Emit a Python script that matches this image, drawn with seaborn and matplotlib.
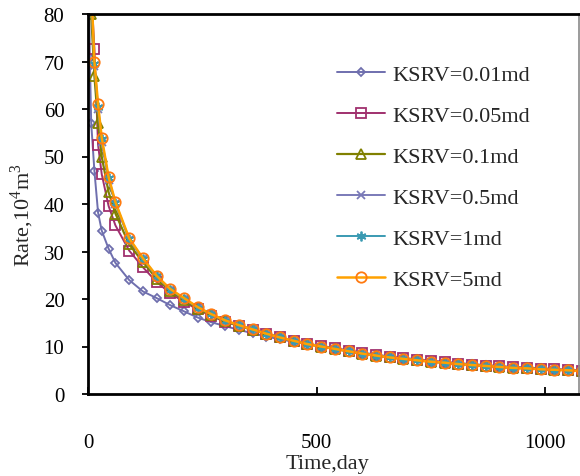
import matplotlib
matplotlib.use("Agg")
import matplotlib.pyplot as plt
import seaborn as sns
import pandas as pd

# ---------------- data ----------------
time_days = [1, 4, 7, 14, 22, 30, 45, 60, 90, 120, 150, 180, 210, 240, 270,
             300, 330, 360, 390, 420, 450, 480, 510, 540, 570, 600, 630, 660,
             690, 720, 750, 780, 810, 840, 870, 900, 930, 960, 990, 1020, 1050, 1080]

series_labels = ["KSRV=0.01md", "KSRV=0.05md", "KSRV=0.1md",
                 "KSRV=0.5md", "KSRV=1md", "KSRV=5md"]

rate_001 = [95, 70.8, 57, 47, 38.2, 34.4, 30.6, 27.6, 24.0, 21.6, 20.2, 18.7, 17.4, 16.1, 15.1,
            14.3, 13.5, 12.8, 12.1, 11.5, 11.0, 10.5, 10.1, 9.6, 9.2, 8.7, 8.3, 7.9,
            7.6, 7.3, 7.0, 6.8, 6.5, 6.3, 6.1, 5.9, 5.7, 5.6, 5.4, 5.3, 5.1, 5.0]
rate_005 = [120, 95, 85, 72.7, 52.5, 46.3, 39.6, 35.5, 30.2, 26.7, 23.6, 21.2, 19.4, 17.8, 16.4,
            15.2, 14.3, 13.5, 12.7, 11.9, 11.2, 10.6, 10.1, 9.6, 9.1, 8.6, 8.2, 7.8,
            7.5, 7.2, 6.9, 6.7, 6.4, 6.2, 6.0, 5.8, 5.6, 5.5, 5.3, 5.2, 5.0, 4.9]
rate_01 = [130, 92, 80, 67, 57, 50, 42.5, 38, 31.5, 27.8, 24.3, 21.7, 19.8, 18.0, 16.6,
           15.3, 14.4, 13.5, 12.7, 11.9, 11.2, 10.5, 10.0, 9.5, 9.0, 8.5, 8.1, 7.7,
           7.4, 7.1, 6.8, 6.6, 6.3, 6.1, 5.9, 5.7, 5.5, 5.4, 5.2, 5.1, 5.0, 4.8]
rate_05 = [140, 96, 84, 69, 60, 53, 45, 40, 32.5, 28.4, 24.7, 22.0, 20.0, 18.2, 16.8,
           15.4, 14.5, 13.6, 12.7, 11.9, 11.2, 10.5, 10.0, 9.5, 9.0, 8.5, 8.1, 7.7,
           7.4, 7.1, 6.8, 6.6, 6.3, 6.1, 5.9, 5.7, 5.5, 5.4, 5.2, 5.1, 5.0, 4.8]
rate_1 = [145, 98, 85, 69.5, 60.5, 53.6, 45.5, 40.2, 32.7, 28.5, 24.8, 22.0, 20.1, 18.2, 16.8,
          15.4, 14.5, 13.6, 12.7, 11.9, 11.2, 10.5, 10.0, 9.5, 9.0, 8.5, 8.1, 7.7,
          7.4, 7.1, 6.8, 6.6, 6.3, 6.1, 5.9, 5.7, 5.5, 5.4, 5.2, 5.1, 5.0, 4.8]
rate_5 = [150, 100, 86, 70, 61, 54, 45.7, 40.4, 32.8, 28.6, 24.9, 22.1, 20.2, 18.3, 16.8,
          15.5, 14.5, 13.6, 12.7, 11.9, 11.2, 10.5, 10.0, 9.5, 9.0, 8.5, 8.1, 7.7,
          7.4, 7.1, 6.8, 6.6, 6.3, 6.1, 5.9, 5.7, 5.5, 5.4, 5.2, 5.1, 5.0, 4.8]

x_ticks = [0, 500, 1000]
y_ticks = [0, 10, 20, 30, 40, 50, 60, 70, 80]

# ---------------- style ----------------
sns.set_style("ticks")
plt.rcParams["font.family"] = ["Liberation Serif", "DejaVu Serif"]
plt.rcParams["mathtext.fontset"] = "custom"
plt.rcParams["mathtext.rm"] = "Liberation Serif"

styles = [
    dict(color="#6F6FAE", marker="D", ms=4.2, mec="#6F6FAE", lw=1.4),
    dict(color="#A0306E", marker="s", ms=6.5, mec="#A0306E", lw=1.4),
    dict(color="#808000", marker="^", ms=6.5, mec="#808000", lw=1.6),
    dict(color="#7A7AB8", marker="x", ms=6.0, mec="#7A7AB8", lw=1.4),
    dict(color="#3A9AB2", marker=(6, 2, 0), ms=7.0, mec="#3A9AB2", lw=1.4),
    dict(color="#FFA100", marker="o", ms=7.5, mec="#FF7A10", lw=1.8),
]

rates = [rate_001, rate_005, rate_01, rate_05, rate_1, rate_5]
rows = []
for lab, r in zip(series_labels, rates):
    for t, v in zip(time_days, r):
        rows.append({"Time": t, "Rate": v, "Series": lab})
df = pd.DataFrame(rows)

fig = plt.figure(figsize=(5.8, 4.77), dpi=100)
ax = fig.add_axes([88 / 580, 1 - 395 / 477, (578.5 - 88) / 580, (395 - 15) / 477])

for lab, st in zip(series_labels, styles):
    sub = df[df["Series"] == lab]
    sns.lineplot(data=sub, x="Time", y="Rate", ax=ax, color=st["color"],
                 marker=st["marker"], markersize=st["ms"],
                 markeredgecolor=st["mec"], markerfacecolor="none",
                 markeredgewidth=1.3, linewidth=st["lw"], label=lab,
                 errorbar=None, sort=False)

ax.set_xlim(0, 1073)
ax.set_ylim(0, 80)
ax.set_xticks(x_ticks)
ax.set_yticks(y_ticks)
ax.tick_params(axis="x", direction="in", length=5, width=1.3, pad=28,
               labelsize=15, colors="black")
ax.tick_params(axis="y", direction="out", length=4, width=1.3, pad=13,
               labelsize=15, colors="black")

for side in ["left", "bottom", "top"]:
    ax.spines[side].set_color("black")
    ax.spines[side].set_linewidth(2.0)
ax.spines["right"].set_color("#8a8a8a")
ax.spines["right"].set_linewidth(1.2)

ax.set_xlabel("Time,day", fontsize=16)
ax.set_ylabel(r"Rate,10$^{\mathregular{4}}$m$^{\mathregular{3}}$", fontsize=16)
ax.xaxis.label.set_va("center")
ax.yaxis.label.set_va("center")
ax.xaxis.set_label_coords((327 - 88) / 490.5, (395 - 465) / 380)
ax.yaxis.set_label_coords((22 - 88) / 490.5, (395 - 215) / 380)

leg = ax.legend(loc="upper left", bbox_to_anchor=(337 / 580, 1 - 65 / 477),
                bbox_transform=fig.transFigure, frameon=False, fontsize=16,
                handlelength=2.15, handletextpad=0.35, labelspacing=0.92,
                borderpad=0, borderaxespad=0)

fig.savefig("out.png", dpi=100, facecolor="white")
